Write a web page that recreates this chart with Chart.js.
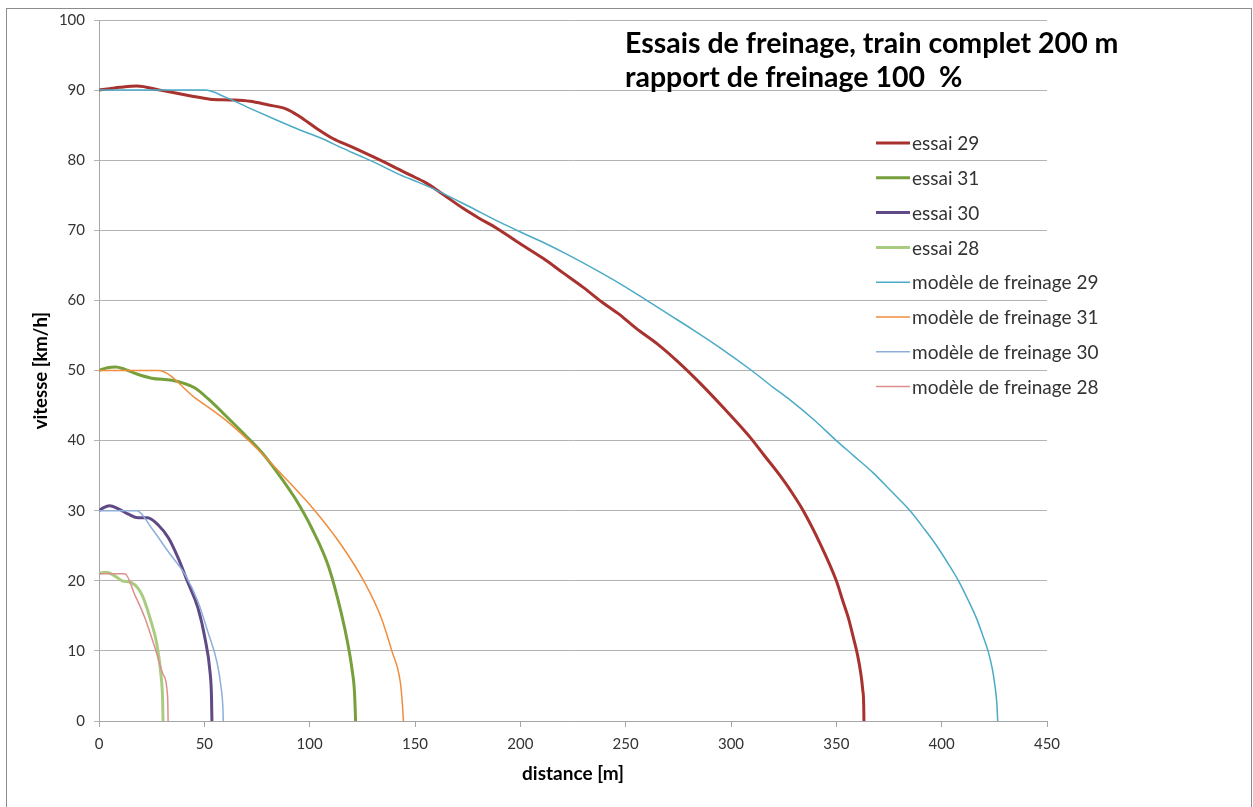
<!DOCTYPE html>
<html>
<head>
<meta charset="utf-8">
<script src="https://cdn.jsdelivr.net/npm/chart.js@4.4.1/dist/chart.umd.min.js"></script>
<style>
  html, body { margin: 0; padding: 0; background: #fff; }
</style>
</head>
<body>
<canvas id="brakeChart" width="1253" height="807"></canvas>
<script>
// distances [m] and speeds [km/h]
const essai29Dist = [0, 5, 10, 18, 29, 43, 52.7, 62, 71.7, 80, 89, 95.4, 103, 111, 120, 130, 139, 147.6, 155, 162, 173, 180, 188.8, 198.3, 210.8, 220, 229.7, 239, 247, 255, 265, 275, 285.3, 297, 309, 316, 323.3, 328, 334.3, 342.3, 350, 353, 356, 358, 360, 361.5, 362.5, 363, 363.1];
const essai29Speed = [90, 90.2, 90.4, 90.6, 90.0, 89.2, 88.7, 88.6, 88.4, 87.9, 87.3, 86.2, 84.6, 83.1, 81.9, 80.5, 79.2, 77.9, 76.8, 75.4, 73.1, 71.8, 70.3, 68.4, 66, 64, 61.9, 59.7, 58, 56, 53.8, 51.2, 48.2, 44.5, 40.5, 37.8, 35.0, 33.0, 30, 25.3, 20, 17.2, 14.4, 12.0, 9.5, 7.0, 4.5, 2.2, 0];

const essai31Dist = [0, 4, 8, 12, 18, 25, 34.5, 40, 45.6, 52, 61, 69, 77, 85, 93, 101, 109, 115, 118, 120, 121.3, 121.8];
const essai31Speed = [50, 50.4, 50.5, 50.2, 49.5, 48.9, 48.6, 48.2, 47.5, 45.9, 43.3, 40.9, 38.4, 35.3, 31.8, 27.5, 22.0, 15.4, 11.2, 7.6, 4.0, 0];

const essai30Dist = [0, 2, 5, 9, 14, 18.5, 23, 28, 33, 37.5, 42, 47, 50.3, 52.7, 53.4, 53.6];
const essai30Speed = [30, 30.4, 30.7, 30.3, 29.5, 29.0, 29.0, 28, 26.1, 23.3, 19.9, 16.1, 11.8, 7, 3.5, 0];

const essai28Dist = [0, 2, 4, 8, 11, 15.6, 20.4, 24.2, 27.5, 29.4, 30.2, 30.4];
const essai28Speed = [21, 21.2, 21.2, 20.6, 20.0, 19.7, 18.0, 14.7, 10.9, 6.6, 3, 0];

const model29Dist = [0, 50.3, 60, 71.7, 84.5, 95.4, 105, 115, 124, 130, 143, 152, 160.3, 175, 190, 199.8, 210, 222, 238, 250, 260, 271, 282, 295, 309.8, 320, 328, 340, 350, 358, 367.5, 376, 385, 392, 397.6, 403, 408, 412.5, 416.6, 419.5, 422, 424, 425.3, 426.2, 426.6];
const model29Speed = [90, 90, 89, 87.4, 85.7, 84.3, 83.2, 81.8, 80.6, 79.8, 77.9, 76.8, 75.7, 73.5, 71.2, 69.8, 68.4, 66.6, 64.0, 61.9, 60, 57.9, 55.8, 53.2, 50, 47.6, 45.8, 42.8, 40, 37.9, 35.4, 32.8, 30, 27.3, 25, 22.5, 20, 17.3, 14.6, 12.2, 10, 7.5, 5, 2.5, 0];

const model31Dist = [0, 28, 45.6, 61, 75.5, 87, 102.5, 115, 126, 134, 139, 143, 144, 144.5];
const model31Speed = [50, 50, 46.1, 42.7, 38.7, 35.1, 30, 25.1, 19.8, 14.7, 10, 5.6, 2.5, 0];

const model30Dist = [0, 18, 25, 33, 41, 47, 51.7, 56, 58, 58.8, 59];
const model30Speed = [30, 30, 27.5, 24.1, 20.8, 17, 12.7, 8.4, 4.7, 2, 0];

const model28Dist = [0, 12.3, 17, 21.8, 26.6, 30.5, 32.6, 32.8];
const model28Speed = [21, 21, 18, 14.7, 10.4, 6.6, 3.3, 0];

const seriesLabels = ["essai 29", "essai 31", "essai 30", "essai 28",
  "modèle de freinage 29", "modèle de freinage 31", "modèle de freinage 30", "modèle de freinage 28"];
const titleLines = ["Essais de freinage, train complet 200 m", "rapport de freinage 100  %"];

function pts(xs, ys) {
  return xs.map((x, i) => ({ x: x, y: ys[i] }));
}

function serie(label, xs, ys, color, width, order) {
  return {
    label: label,
    data: pts(xs, ys),
    borderColor: color,
    backgroundColor: color,
    borderWidth: width,
    showLine: true,
    pointRadius: 0,
    cubicInterpolationMode: "monotone",
    order: order,
  };
}

// excel-like frame, legend and title inside the plot
const decorPlugin = {
  id: "decor",
  beforeDraw(chart) {
    const ctx = chart.ctx;
    ctx.save();
    ctx.fillStyle = "#fff";
    ctx.fillRect(0, 0, chart.width, chart.height);
    ctx.strokeStyle = "#8c8c8c";
    ctx.lineWidth = 1;
    ctx.strokeRect(6.5, 8.5, 1245, 830);
    ctx.restore();
  },
  afterDraw(chart) {
    const ctx = chart.ctx;
    ctx.save();
    ctx.textBaseline = "middle";
    ctx.font = "19px Lato";
    chart.data.datasets.forEach((ds, i) => {
      const y = 143 + i * 34.8;
      ctx.strokeStyle = ds.borderColor;
      ctx.lineWidth = ds.borderWidth;
      ctx.beginPath();
      ctx.moveTo(876, y);
      ctx.lineTo(910, y);
      ctx.stroke();
      ctx.fillStyle = "#333";
      ctx.fillText(ds.label, 912, y + 1);
    });
    ctx.textBaseline = "alphabetic";
    ctx.font = "bold 28.5px Lato";
    ctx.fillStyle = "#000";
    ctx.fillText(titleLines[0], 625, 53);
    ctx.fillText(titleLines[1], 625, 87);
    ctx.restore();
  },
};

new Chart(document.getElementById("brakeChart"), {
  type: "scatter",
  data: {
    datasets: [
      serie(seriesLabels[0], essai29Dist, essai29Speed, "#a8322e", 3, 2),
      serie(seriesLabels[1], essai31Dist, essai31Speed, "#77a03c", 3, 2),
      serie(seriesLabels[2], essai30Dist, essai30Speed, "#5f4a85", 3, 2),
      serie(seriesLabels[3], essai28Dist, essai28Speed, "#a9cc80", 3, 2),
      serie(seriesLabels[4], model29Dist, model29Speed, "#4babc6", 1.5, 1),
      serie(seriesLabels[5], model31Dist, model31Speed, "#f08d3c", 1.5, 1),
      serie(seriesLabels[6], model30Dist, model30Speed, "#8eaedb", 1.5, 1),
      serie(seriesLabels[7], model28Dist, model28Speed, "#dc8e8c", 1.5, 1),
    ],
  },
  options: {
    responsive: false,
    animation: false,
    layout: { padding: { left: 0, top: 20, right: 206, bottom: 0 } },
    plugins: {
      legend: { display: false },
      tooltip: { enabled: false },
    },
    scales: {
      x: {
        type: "linear",
        min: 0,
        max: 450,
        ticks: { stepSize: 50, color: "#333", font: { family: "Lato", size: 15 }, padding: 8 },
        grid: { drawOnChartArea: false, drawTicks: true, tickLength: 6, color: "#a6a6a6" },
        border: { color: "#a6a6a6" },
        title: {
          display: true,
          text: "distance [m]",
          color: "#000",
          font: { family: "Lato", size: 19, weight: "bold" },
          padding: { top: 0, bottom: 22 },
        },
        afterFit(scale) { scale.height = 86; },
      },
      y: {
        min: 0,
        max: 100,
        ticks: { stepSize: 10, color: "#333", font: { family: "Lato", size: 15 }, padding: 9 },
        grid: { color: "#b3b3b3", tickLength: 5 },
        border: { color: "#a6a6a6" },
        title: {
          display: true,
          text: "vitesse [km/h]",
          color: "#000",
          font: { family: "Lato", size: 18.5, weight: "bold" },
          padding: { top: 30, bottom: 0 },
        },
        afterFit(scale) { scale.width = 99; },
      },
    },
  },
  plugins: [decorPlugin],
});
</script>
</body>
</html>
